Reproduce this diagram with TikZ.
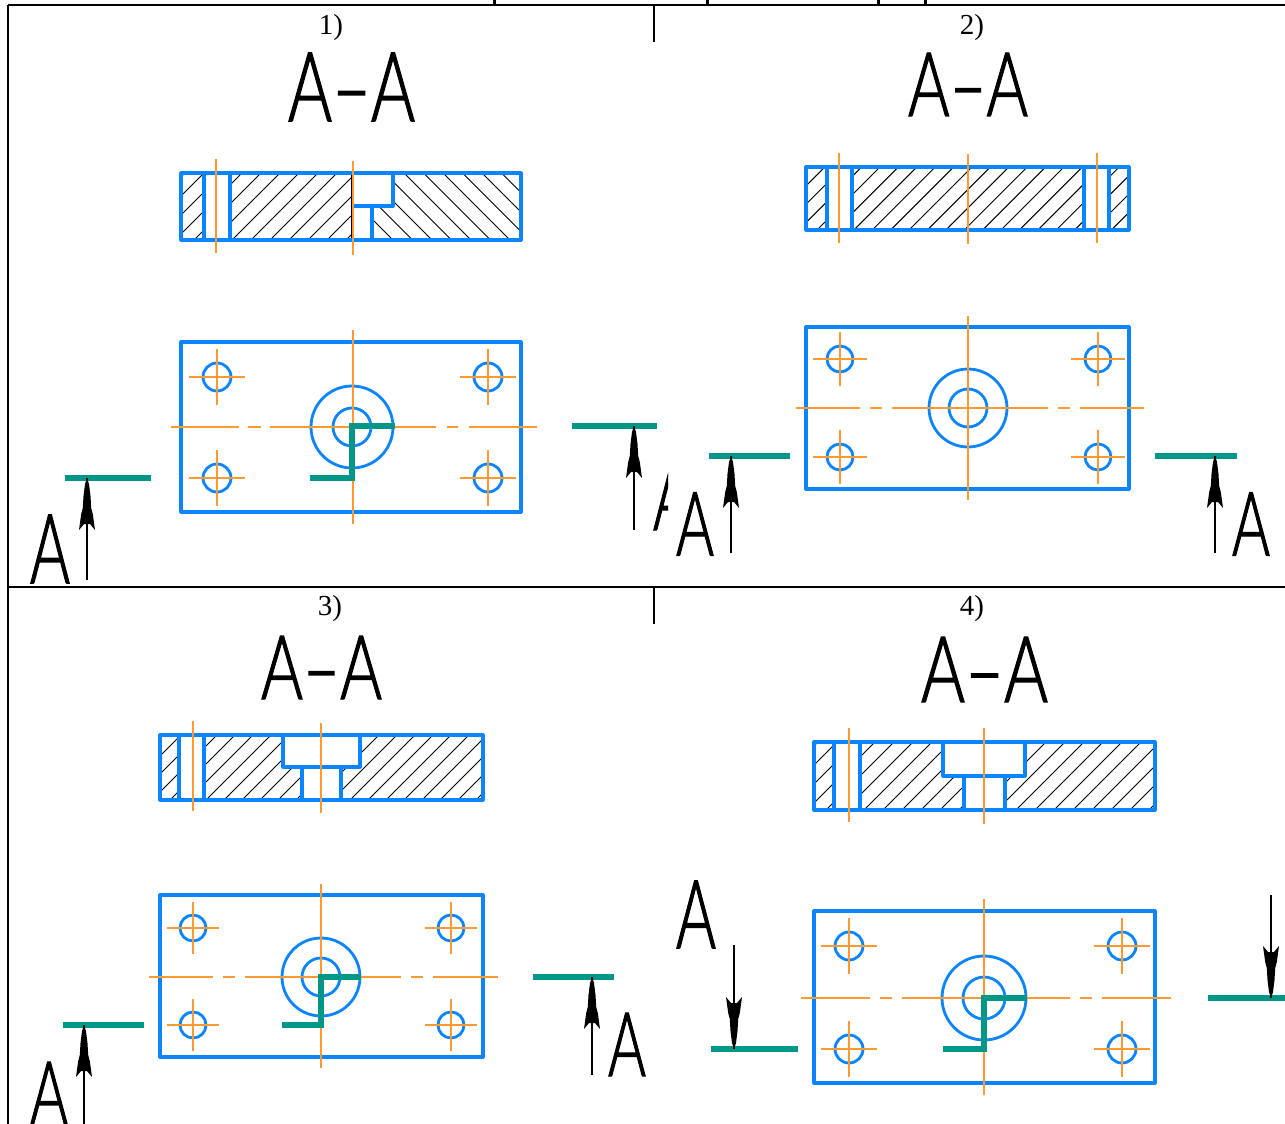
\documentclass[tikz,border=0pt]{standalone}
\usepackage{fontspec}
\usepackage{graphicx}
\setmainfont{Liberation Serif}
\newfontfamily\gostfont[RawFeature={embolden=1.6}]{Lato Light}
\definecolor{cadblue}{HTML}{0A84FF}
\definecolor{cadorange}{HTML}{FF9A33}
\definecolor{cadteal}{HTML}{009688}
\tikzset{
  x=1pt,y=-1pt,
  tableline/.style={draw=black,line width=2.4pt},
  contour/.style={draw=cadblue,line width=3.1pt,line join=round},
  holeline/.style={draw=cadblue,line width=2.8pt},
  axisline/.style={draw=cadorange,line width=1.8pt},
  hatchline/.style={draw=black,line width=1pt},
  cutline/.style={draw=cadteal,line width=5.8pt,line join=miter},
  arrowshaft/.style={draw=black,line width=1.2pt},
  numlabel/.style={inner sep=0pt,font=\fontsize{29}{29}\selectfont},
  gostlabel/.style={inner sep=0pt,anchor=center}
}
\newcommand{\gosttext}[3]{\resizebox{#1pt}{#2pt}{\gostfont\fontsize{92}{92}\selectfont #3}}
\newcommand{\hatchup}[6]{%
  \begin{scope}
    \clip (#1,#2) rectangle (#3,#4);
    \foreach \k in {-12,...,30}{
      \draw[hatchline] ({#5+\k*#6},#4) -- ({#5+\k*#6+#4-#2},#2);
    }
  \end{scope}}
\newcommand{\hatchdown}[6]{%
  \begin{scope}
    \clip (#1,#2) rectangle (#3,#4);
    \foreach \k in {-12,...,30}{
      \draw[hatchline] ({#5+\k*#6},#2) -- ({#5+\k*#6+#4-#2},#4);
    }
  \end{scope}}
\newcommand{\boltpoint}[4]{%
  \draw[holeline] (#1,#2) circle[radius=#3pt];
  \draw[axisline] ({#1-#4},#2) -- ({#1+#4},#2);
  \draw[axisline] (#1,{#2-#4}) -- (#1,{#2+#4});}
\newcommand{\sectarrow}[4]{%
  \draw[arrowshaft] (#1,#3) -- (#1,#2);
  \fill[black] (#1,#2)
    -- ({#1+2},{#2+#4*6}) -- ({#1+3.5},{#2+#4*18}) -- ({#1+4.2},{#2+#4*30})
    -- ({#1+5.8},{#2+#4*36}) -- ({#1+8},{#2+#4*52}) -- ({#1+3},{#2+#4*46})
    -- ({#1-3},{#2+#4*46}) -- ({#1-8},{#2+#4*52}) -- ({#1-5.8},{#2+#4*36})
    -- ({#1-4.2},{#2+#4*30}) -- ({#1-3.5},{#2+#4*18}) -- ({#1-2},{#2+#4*6}) -- cycle;}
\begin{document}
\begin{tikzpicture}
\useasboundingbox[fill=white] (0,0) rectangle (1285,1124);

% === table ===
\fill[black] (493,0) rectangle (496,5);
\fill[black] (706,0) rectangle (709,5);
\fill[black] (877,0) rectangle (880,5);
\fill[black] (924,0) rectangle (927,5);
\draw[tableline] (8,5) -- (1285,5);
\draw[tableline] (8,587) -- (1285,587);
\draw[tableline] (8,5) -- (8,1124);
\draw[tableline,line width=1.8pt] (654,5) -- (654,42);
\draw[tableline,line width=1.8pt] (654,587) -- (654,624);
\node[numlabel] (n1) at (331,27.5) {1)};
\node[numlabel] (n2) at (972,27.5) {2)};
\node[numlabel] (n3) at (330,608.5) {3)};
\node[numlabel] (n4) at (972,608.5) {4)};

% === panel 1 ===
\node[gostlabel] (t1) at (351.5,87) {\gosttext{127}{68}{A–A}};
\hatchup{181}{173}{353}{240}{194}{19}
\hatchdown{353}{173}{521}{240}{404}{19.5}
\fill[white] (204,173) rectangle (230,240);
\fill[white] (353,173) rectangle (393,206);
\fill[white] (353,206) rectangle (372,240);
\draw[hatchline,line width=1.5pt] (352,173) -- (352,240);
\draw[contour] (181,173) rectangle (521,240);
\draw[contour] (204,173) -- (204,240) (230,173) -- (230,240);
\draw[contour] (353,206) -- (393,206) -- (393,173) (372,206) -- (372,240);
\draw[axisline] (216,159) -- (216,253);
\draw[axisline] (353,161) -- (353,255);
% plan
\draw[contour] (181,342) rectangle (521,512);
\draw[holeline] (352,427) circle[radius=41pt];
\draw[holeline] (352,427) circle[radius=19pt];
\boltpoint{217}{377}{14}{28}
\boltpoint{488}{377}{14}{28}
\boltpoint{217}{478}{14}{28}
\boltpoint{488}{478}{14}{28}
\draw[axisline] (353,330) -- (353,524);
\draw[axisline] (171,427) -- (239,427) (248,427) -- (261,427) (270,427) -- (436,427) (447,427) -- (458,427) (469,427) -- (537,427);
\draw[cutline] (310,478) -- (352,478) -- (352,426) -- (395,426);
\draw[cutline] (65,478) -- (151,478);
\draw[cutline] (572,426) -- (657,426);
\sectarrow{87}{478}{580}{1}
\sectarrow{634}{426}{530}{1}
\node[gostlabel] (a11) at (50,549) {\gosttext{40}{68}{A}};
\begin{scope}
  \clip (640,440) rectangle (668,560);
  \node[gostlabel] (a12) at (672,497.5) {\gosttext{38}{65}{A}};
\end{scope}

% === panel 2 ===
\node[gostlabel] (t2) at (968,84.5) {\gosttext{120}{63}{A–A}};
\hatchup{806}{167}{1129}{230}{817}{18.4}
\fill[white] (827,167) rectangle (852,230);
\fill[white] (1084,167) rectangle (1109,230);
\draw[contour] (806,167) rectangle (1129,230);
\draw[contour] (827,167) -- (827,230) (852,167) -- (852,230) (1084,167) -- (1084,230) (1109,167) -- (1109,230);
\draw[axisline] (839,153) -- (839,243);
\draw[axisline] (968,154) -- (968,244);
\draw[axisline] (1097,153) -- (1097,243);
% plan
\draw[contour] (806,327) rectangle (1129,489);
\draw[holeline] (968,408) circle[radius=39pt];
\draw[holeline] (968,408) circle[radius=19pt];
\boltpoint{840}{359}{13}{27}
\boltpoint{1098}{359}{13}{27}
\boltpoint{840}{457}{13}{27}
\boltpoint{1098}{457}{13}{27}
\draw[axisline] (968,316) -- (968,500);
\draw[axisline] (796,408) -- (860,408) (870,408) -- (882,408) (892,408) -- (1048,408) (1058,408) -- (1070,408) (1080,408) -- (1144,408);
\draw[cutline] (709,456) -- (790,456);
\draw[cutline] (1155,456) -- (1237,456);
\sectarrow{731}{456}{553}{1}
\sectarrow{1215}{456}{553}{1}
\node[gostlabel] (a21) at (695,524) {\gosttext{38}{63}{A}};
\node[gostlabel] (a22) at (1251,524) {\gosttext{38}{63}{A}};

% === panel 3 ===
\node[gostlabel] (t3) at (321.5,667.5) {\gosttext{121}{63}{A–A}};
\hatchup{160}{735}{483}{800}{170}{18}
\fill[white] (179,735) rectangle (204,800);
\fill[white] (283,735) rectangle (360,767);
\fill[white] (302,767) rectangle (341,800);
\draw[contour] (160,735) rectangle (483,800);
\draw[contour] (179,735) -- (179,800) (204,735) -- (204,800);
\draw[contour] (283,735) -- (283,767) -- (360,767) -- (360,735) (302,767) -- (302,800) (341,767) -- (341,800);
\draw[axisline] (193,721) -- (193,811);
\draw[axisline] (321,723) -- (321,813);
% plan
\draw[contour] (160,895) rectangle (483,1057);
\draw[holeline] (321,977) circle[radius=39pt];
\draw[holeline] (321,977) circle[radius=19pt];
\boltpoint{193}{928}{13}{26}
\boltpoint{451}{928}{13}{26}
\boltpoint{193}{1025}{13}{26}
\boltpoint{451}{1025}{13}{26}
\draw[axisline] (321,884) -- (321,1068);
\draw[axisline] (149,977) -- (213,977) (223,977) -- (235,977) (245,977) -- (401,977) (411,977) -- (423,977) (433,977) -- (498,977);
\draw[cutline] (282,1025) -- (321,1025) -- (321,977) -- (361,977);
\draw[cutline] (63,1025) -- (144,1025);
\draw[cutline] (533,977) -- (614,977);
\sectarrow{84}{1025}{1124}{1}
\sectarrow{592}{977}{1075}{1}
\node[gostlabel] (a31) at (49,1093) {\gosttext{38}{62}{A}};
\node[gostlabel] (a32) at (627,1044.5) {\gosttext{38}{63}{A}};

% === panel 4 ===
\node[gostlabel] (t4) at (984.5,669.5) {\gosttext{127}{65}{A–A}};
\hatchup{814}{742}{1155}{810}{826}{19}
\fill[white] (834,742) rectangle (860,810);
\fill[white] (943,742) rectangle (1025,776);
\fill[white] (964,776) rectangle (1005,810);
\draw[contour] (814,742) rectangle (1155,810);
\draw[contour] (834,742) -- (834,810) (860,742) -- (860,810);
\draw[contour] (943,742) -- (943,776) -- (1025,776) -- (1025,742) (964,776) -- (964,810) (1005,776) -- (1005,810);
\draw[axisline] (849,728) -- (849,822);
\draw[axisline] (984,728) -- (984,824);
% plan
\draw[contour] (814,911) rectangle (1155,1083);
\draw[holeline] (984,998) circle[radius=42pt];
\draw[holeline] (984,998) circle[radius=21pt];
\boltpoint{849}{946}{14}{28}
\boltpoint{1122}{946}{14}{28}
\boltpoint{849}{1049}{14}{28}
\boltpoint{1122}{1049}{14}{28}
\draw[axisline] (984,899) -- (984,1095);
\draw[axisline] (801,998) -- (870,998) (880,998) -- (892,998) (902,998) -- (1070,998) (1080,998) -- (1092,998) (1102,998) -- (1171,998);
\draw[cutline] (943,1049) -- (984,1049) -- (984,998) -- (1027,998);
\draw[cutline] (711,1049) -- (798,1049);
\draw[cutline] (1208,998) -- (1285,998);
\sectarrow{734}{1049}{945}{-1}
\sectarrow{1271}{998}{895}{-1}
\node[gostlabel] (a41) at (696,914.5) {\gosttext{40}{67}{A}};
\end{tikzpicture}
\end{document}
